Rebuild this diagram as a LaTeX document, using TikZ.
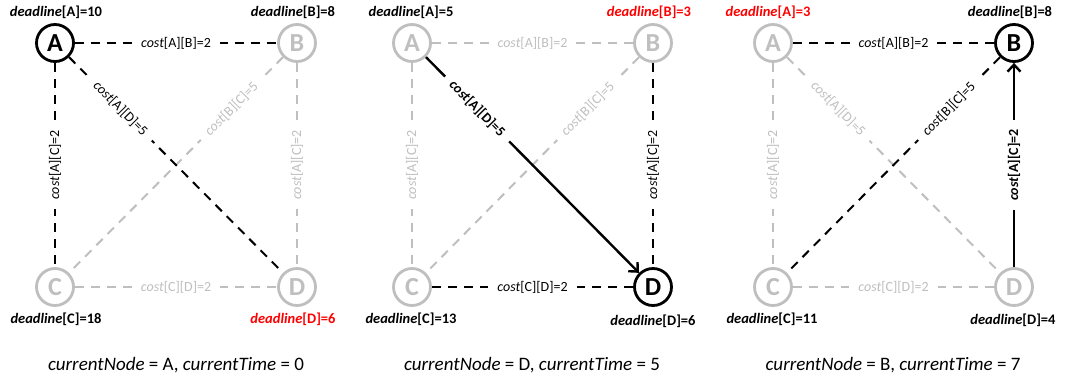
\documentclass[tikz,border=0pt]{standalone}
\usepackage{fontspec}
\setmainfont{Carlito}
\usetikzlibrary{arrows.meta}
\definecolor{lgray}{RGB}{191,191,191}
\definecolor{hred}{RGB}{255,0,0}
\newcommand{\dl}[2]{\textbf{\textit{deadline}[#1]=#2}}
\newcommand{\cst}[3]{\textit{cost}[#1][#2]=#3}
\newcommand{\cstb}[3]{\textbf{\textit{cost}[#1][#2]=#3}}
\begin{document}
\begin{tikzpicture}[x=1pt,y=-1pt,
 vtx/.style={circle,minimum size=37pt,inner sep=0pt,line width=2.8pt,font=\fontsize{26}{28}\selectfont\bfseries},
 cur/.style={vtx,draw=black,text=black},
 oth/.style={vtx,draw=lgray,text=lgray},
 dlab/.style={font=\fontsize{14.5}{16}\selectfont,inner sep=0pt},
 dred/.style={dlab,text=hred},
 eon/.style={draw=black,line width=2pt,dash pattern=on 9pt off 7pt},
 eoff/.style={draw=lgray,line width=2pt,dash pattern=on 9pt off 7pt},
 epath/.style={draw=black,line width=2.4pt,-{Straight Barb[length=7pt,width=13pt]}},
 elab/.style={fill=white,inner xsep=9pt,inner ysep=1pt,font=\fontsize{14}{16}\selectfont},
 elabg/.style={elab,text=lgray},
 capt/.style={font=\fontsize{19}{21}\selectfont,inner sep=0pt}
]
\useasboundingbox (0,0) rectangle (1065,378);
% ---------- panel 1 ----------
\node[cur] (a1) at (55,43) {A};
\node[oth] (b1) at (297,43) {B};
\node[oth] (c1) at (55,287) {C};
\node[oth] (d1) at (297,287) {D};
\node[dlab] (ta1) at (56,12) {\dl{A}{10}};
\node[dlab] (tb1) at (293,12) {\dl{B}{8}};
\node[dlab] (tc1) at (56,319) {\dl{C}{18}};
\node[dred] (td1) at (293,319) {\dl{D}{6}};
\draw[eoff] (b1) -- node[elabg,sloped,pos=0.24] {\cst{B}{C}{5}} (c1);
\draw[eoff] (b1) -- node[elabg,rotate=90] {\cst{A}{C}{2}} (d1);
\draw[eoff] (c1) -- node[elabg] {\cst{C}{D}{2}} (d1);
\draw[eon] (a1) -- node[elab] {\cst{A}{B}{2}} (b1);
\draw[eon] (a1) -- node[elab,rotate=90] {\cst{A}{C}{2}} (c1);
\draw[eon] (a1) -- node[elab,sloped,pos=0.24] {\cst{A}{D}{5}} (d1);
\node[capt] (cap1) at (176,365) {\textit{currentNode} = A, \textit{currentTime} = 0};
% ---------- panel 2 ----------
\node[oth] (a2) at (412,43) {A};
\node[oth] (b2) at (653,43) {B};
\node[oth] (c2) at (412,287) {C};
\node[cur] (d2) at (653,287) {D};
\node[dlab] (ta2) at (411,12) {\dl{A}{5}};
\node[dred] (tb2) at (649,12) {\dl{B}{3}};
\node[dlab] (tc2) at (411,319) {\dl{C}{13}};
\node[dlab] (td2) at (653,321) {\dl{D}{6}};
\draw[eoff] (a2) -- node[elabg] {\cst{A}{B}{2}} (b2);
\draw[eoff] (a2) -- node[elabg,rotate=90] {\cst{A}{C}{2}} (c2);
\draw[eoff] (b2) -- node[elabg,sloped,pos=0.24] {\cst{B}{C}{5}} (c2);
\draw[eon] (b2) -- node[elab,rotate=90] {\cst{A}{C}{2}} (d2);
\draw[eon] (c2) -- node[elab] {\cst{C}{D}{2}} (d2);
\draw[epath] (a2) -- node[elab,sloped,pos=0.24] {\cstb{A}{D}{5}} (d2);
\node[capt] (cap2) at (532,365) {\textit{currentNode} = D, \textit{currentTime} = 5};
% ---------- panel 3 ----------
\node[oth] (a3) at (773,43) {A};
\node[cur] (b3) at (1014,43) {B};
\node[oth] (c3) at (773,287) {C};
\node[oth] (d3) at (1014,287) {D};
\node[dred] (ta3) at (768,12) {\dl{A}{3}};
\node[dlab] (tb3) at (1010,12) {\dl{B}{8}};
\node[dlab] (tc3) at (772,319) {\dl{C}{11}};
\node[dlab] (td3) at (1013,320) {\dl{D}{4}};
\draw[eoff] (a3) -- node[elabg,rotate=90] {\cst{A}{C}{2}} (c3);
\draw[eoff] (a3) -- node[elabg,sloped,pos=0.24] {\cst{A}{D}{5}} (d3);
\draw[eoff] (c3) -- node[elabg] {\cst{C}{D}{2}} (d3);
\draw[eon] (a3) -- node[elab] {\cst{A}{B}{2}} (b3);
\draw[eon] (b3) -- node[elab,sloped,pos=0.24] {\cst{B}{C}{5}} (c3);
\draw[epath] (d3) -- node[elab,rotate=90] {\cstb{A}{C}{2}} (b3);
\node[capt] (cap3) at (893,365) {\textit{currentNode} = B, \textit{currentTime} = 7};
\end{tikzpicture}
\end{document}
